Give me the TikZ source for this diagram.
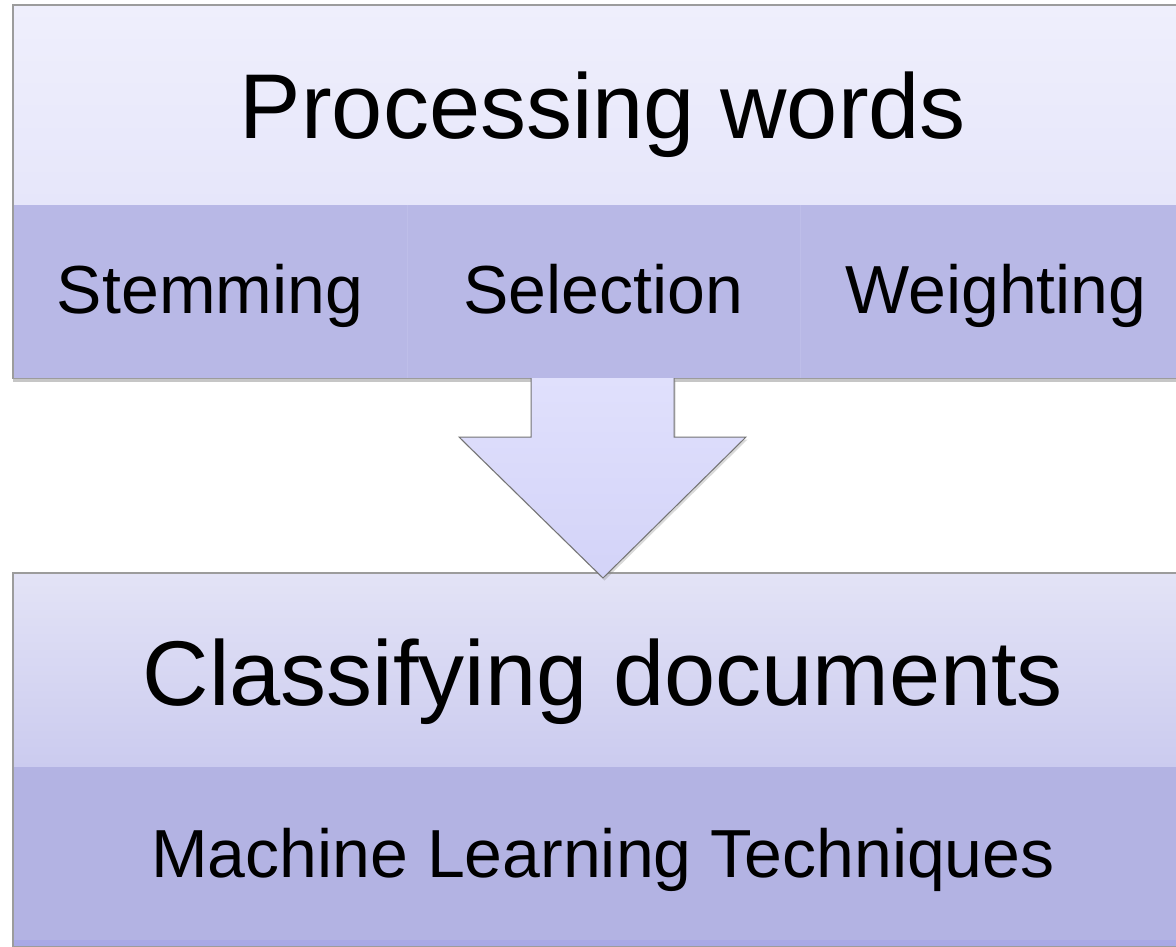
\documentclass[tikz,border=0pt]{standalone}
\usepackage{fontspec}
\setmainfont{Liberation Sans}
\usetikzlibrary{shadows}

\definecolor{headA}{HTML}{EFEFFC}
\definecolor{headB}{HTML}{E6E6FA}
\definecolor{bandA}{HTML}{B8B8E6}
\definecolor{bandSep}{HTML}{BEBEE9}
\definecolor{headC}{HTML}{E3E3F6}
\definecolor{headD}{HTML}{CBCBEF}
\definecolor{bandB}{HTML}{B3B3E3}
\definecolor{bandEdge}{HTML}{A9A9E6}
\definecolor{arrowA}{HTML}{E0E0FC}
\definecolor{arrowB}{HTML}{D3D3F8}
\definecolor{rimgray}{HTML}{9C9C9C}

\tikzset{
  outerbox/.style={draw=rimgray, line width=1.2pt, fill=white,
    drop shadow={shadow xshift=0pt, shadow yshift=-3.5pt, opacity=0.45}},
  block/.style={rectangle, inner sep=0pt, draw=none},
  bigtext/.style={inner sep=0pt, anchor=base, font=\fontsize{92}{100}\selectfont},
  midtext/.style={inner sep=0pt, anchor=base, font=\fontsize{68}{80}\selectfont},
  downarrow/.style={draw=black!55, line width=1pt, top color=arrowA, bottom color=arrowB,
    drop shadow={shadow xshift=1.5pt, shadow yshift=-2.5pt, opacity=0.3}}
}

\begin{document}
\begin{tikzpicture}[x=1pt, y=-1pt]
\useasboundingbox (0,0) rectangle (1176,946);

% upper box: heading and three sub-steps
\path[outerbox] (13,5) rectangle (1193,378);
\node[block, top color=headA, bottom color=headB, minimum width=1180pt, minimum height=200pt] (procHead) at (603,105) {};
\node[block, fill=bandA, minimum width=1180pt, minimum height=173pt] (procBand) at (603,291.5) {};
\draw[bandSep, line width=1pt] (407,205) -- (407,378) (800,205) -- (800,378);
\draw[rimgray, line width=1.2pt] (13,378) -- (13,5) -- (1193,5);

\node[bigtext] (procTitle) at (603,138) {Processing words};
\node[midtext] (stem) at (210,313) {Stemming};
\node[midtext] (sel) at (603,313) {Selection};
\node[midtext] (wgt) at (996,313) {Weighting};

% lower box: heading and technique
\path[outerbox] (13,573) rectangle (1193,946);
\node[block, top color=headC, bottom color=headD, minimum width=1180pt, minimum height=194pt] (clsHead) at (603,670) {};
\node[block, fill=bandB, minimum width=1180pt, minimum height=173pt] (clsBand) at (603,853.5) {};
\fill[bandEdge] (13,940) rectangle (1193,946);
\draw[rimgray, line width=1.2pt] (13,946) -- (13,573) -- (1193,573);

\node[bigtext] (clsTitle) at (603,705) {Classifying documents};
\node[midtext] (mlt) at (603,877) {Machine Learning Techniques};

% block arrow from the upper box down to the lower box
\coordinate (arrowTop) at (procBand.south);
\coordinate (arrowTip) at (603,578);
\path[downarrow] (531,378) -- (531,437) -- (459,437) -- (arrowTip)
  -- (746,437) -- (674,437) -- (674,378);
\end{tikzpicture}
\end{document}
